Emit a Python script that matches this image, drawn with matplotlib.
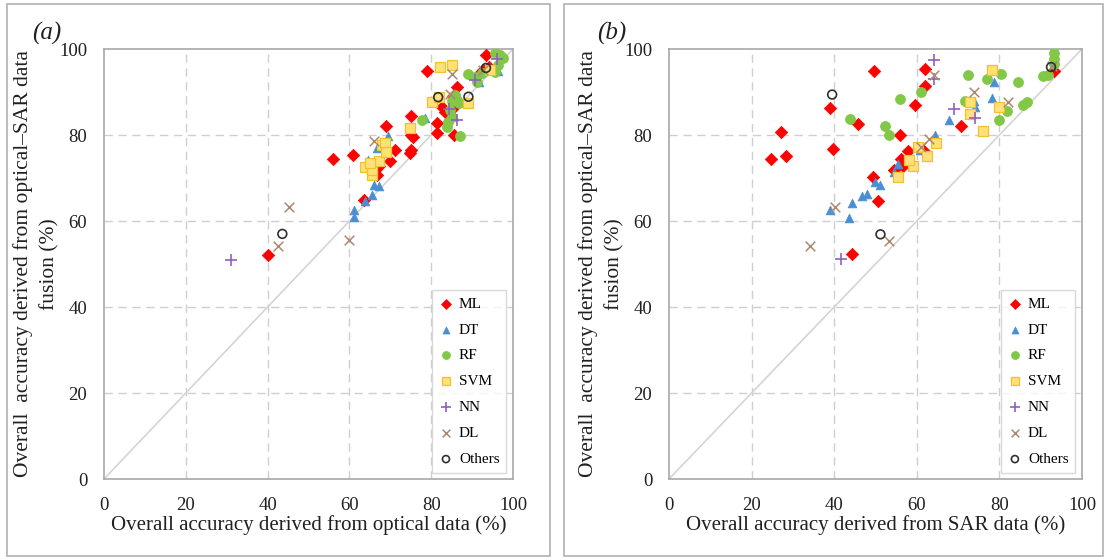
import matplotlib
matplotlib.use("Agg")
import matplotlib.pyplot as plt
from matplotlib.patches import Rectangle

plt.rcParams['font.family'] = ['Liberation Serif', 'DejaVu Serif']

# ---------------- Panel (a): optical vs fusion ----------------
a_ML_x = [40, 56, 61, 69, 79, 75, 75, 75, 74.7, 71.2, 69.9, 67.3, 66.4, 66.8, 81.3, 81.4, 82.6, 83.4,
          85.6, 86.3, 85.4, 93.5, 94.1, 92.7, 91.4, 85.3, 75.5, 63.5]
a_ML_y = [52, 74.5, 75.4, 82, 95, 84.4, 80, 76.5, 75.7, 76.5, 74, 72.7, 72, 70.7, 80.5, 82.7, 86.5, 85.4,
          80, 91.2, 89, 98.7, 95.8, 95.1, 94, 86.3, 79.5, 64.8]
a_DT_x = [61.2, 61.2, 63.9, 65.5, 65.9, 67.2, 64.6, 66.8, 69.4, 78.6, 91.7, 96.3, 85.5]
a_DT_y = [62.5, 60.9, 64.7, 66.1, 68.4, 68.2, 74.1, 76.9, 79.8, 84, 92.4, 94.8, 84.5]
a_RF_x = [77.7, 87, 83.9, 84.1, 84.6, 86.3, 85.8, 85.1, 89, 90.7, 91.2, 95.6, 96.8, 97.6, 96.3, 95.6, 92.4, 86.8, 85.2]
a_RF_y = [83.5, 79.8, 81.9, 83, 85.8, 88.1, 89.3, 84.2, 94.2, 93.5, 92.3, 99, 98.6, 97.9, 96.3, 94.7, 94.4, 87.5, 87.8]
a_SVM_x = [82.2, 85.1, 80.2, 81.9, 89, 74.8, 63.8, 65.5, 65.5, 67.2, 68, 68.7, 69, 94.4, 65]
a_SVM_y = [95.8, 96.3, 87.7, 88.8, 87.4, 81.6, 72.6, 70.7, 71.9, 74, 77.7, 78.1, 76.1, 95.1, 73.5]
a_NN_x = [31, 84.3, 86.3, 90.8, 96]
a_NN_y = [51, 86, 83.5, 92.7, 97.7]
a_DL_x = [45.2, 42.5, 60, 65.9, 85.2, 84.5, 92.6]
a_DL_y = [63.3, 54.3, 55.5, 78.7, 94.1, 89.6, 95.2]
a_OT_x = [43.6, 81.7, 89.1, 93.4]
a_OT_y = [57, 88.8, 88.9, 95.6]

# ---------------- Panel (b): SAR vs fusion ----------------
b_ML_x = [24.8, 27, 28.3, 39.1, 39.8, 49.7, 45.7, 49.4, 50.6, 44.3, 55.9, 59.6, 62, 62, 70.6, 57.8,
          56.1, 56.7, 54.6, 61.8, 93.1]
b_ML_y = [74.4, 80.6, 75.2, 86.3, 76.7, 94.8, 82.5, 70.2, 64.7, 52.4, 80, 86.9, 95.4, 91.4, 82, 76.3,
          74.4, 72.7, 71.9, 76.3, 95]
b_DT_x = [39.1, 43.6, 44.2, 46.8, 47.9, 49.9, 51.2, 54.6, 55.5, 64.4, 67.8, 74.1, 73.9, 78.2, 78.6, 60.7]
b_DT_y = [62.5, 60.8, 64.2, 65.7, 66.3, 69, 68.3, 71.5, 73.2, 80.1, 83.5, 86.5, 87.9, 88.5, 92.3, 76.5]
b_RF_x = [43.8, 52.3, 53.2, 55.9, 61.1, 72.3, 71.6, 77.1, 80.3, 80, 81.9, 84.4, 85.7, 86.6, 90.5, 91.8,
          93.1, 93.1, 93.1]
b_RF_y = [83.7, 82.1, 80, 88.3, 89.9, 93.9, 87.9, 93.1, 94.3, 83.5, 85.6, 92.3, 87, 87.7, 93.7, 93.9,
          99.1, 97.7, 96.4]
b_SVM_x = [55.5, 59, 58.1, 60.2, 62.4, 64.6, 72.8, 72.8, 76, 78.2, 80]
b_SVM_y = [70.2, 72.7, 74.1, 77.1, 75.1, 78.1, 84.8, 87.7, 81, 95.2, 86.5]
b_NN_x = [41.7, 64.1, 64.1, 68.9, 74.1]
b_NN_y = [51.1, 97.4, 93.1, 86, 84]
b_DL_x = [34.1, 40.2, 53.3, 64.1, 63, 73.9, 82, 61.1, 92.7]
b_DL_y = [54.2, 63.3, 55.3, 93.9, 79, 89.9, 87.7, 77.3, 96]
b_OT_x = [39.5, 51.2, 92.5]
b_OT_y = [89.4, 56.9, 95.8]

labels = ["ML", "DT", "RF", "SVM", "NN", "DL", "Others"]
ticks = [0, 20, 40, 60, 80, 100]

styles = {
    "ML": dict(marker='D', s=40, c='#ff0000', edgecolors='#ff0000', linewidths=0.5),
    "DT": dict(marker='^', s=40, c='#4a8fd4', edgecolors='#4a8fd4', linewidths=0.5),
    "RF": dict(marker='o', s=52, c='#80c846', edgecolors='#80c846', linewidths=0.5),
    "SVM": dict(marker='s', s=42, c='#ffe07a', edgecolors='#f2c12e', linewidths=0.9),
    "NN": dict(marker='+', s=75, c='#9060c0', linewidths=1.2),
    "DL": dict(marker='x', s=48, c='#b08870', linewidths=1.1),
    "Others": dict(marker='o', s=40, facecolors='none', edgecolors='#303030', linewidths=1.2),
}

fig = plt.figure(figsize=(11.07, 5.6), dpi=100)
W, H = 1107, 560

def frac(x0, y0, x1, y1):
    return [x0 / W, 1 - y1 / H, (x1 - x0) / W, (y1 - y0) / H]

panels = [
    ("(a)", frac(104, 49, 513, 479), "Overall accuracy derived from optical data (%)",
     [(a_ML_x, a_ML_y), (a_DT_x, a_DT_y), (a_RF_x, a_RF_y), (a_SVM_x, a_SVM_y),
      (a_NN_x, a_NN_y), (a_DL_x, a_DL_y), (a_OT_x, a_OT_y)], (7, 4, 550, 556)),
    ("(b)", frac(669, 49, 1082, 479), "Overall accuracy derived from SAR data (%)",
     [(b_ML_x, b_ML_y), (b_DT_x, b_DT_y), (b_RF_x, b_RF_y), (b_SVM_x, b_SVM_y),
      (b_NN_x, b_NN_y), (b_DL_x, b_DL_y), (b_OT_x, b_OT_y)], (564, 4, 1103, 556)),
]

for tag, rect, xlabel, series, border in panels:
    bx0, by0, bx1, by1 = border
    fig.patches.append(Rectangle((bx0 / W, 1 - by1 / H), (bx1 - bx0) / W, (by1 - by0) / H,
                                 transform=fig.transFigure, fill=False, edgecolor='#b0b0b0',
                                 linewidth=1.2, zorder=0))
    ax = fig.add_axes(rect)
    ax.set_xlim(0, 100)
    ax.set_ylim(0, 100)
    ax.set_xticks(ticks)
    ax.set_yticks(ticks)
    ax.tick_params(length=0, labelsize=13.5, colors='#202020')
    ax.tick_params(axis='x', pad=13)
    ax.tick_params(axis='y', pad=12)
    for sp in ax.spines.values():
        sp.set_color('#a8a8a8')
        sp.set_linewidth(1.2)
    for v in [20, 40, 60, 80]:
        ax.axvline(v, color='#cfcfcf', lw=1.0, ls=(0, (6, 4)), zorder=0)
        ax.axhline(v, color='#cfcfcf', lw=1.0, ls=(0, (6, 4)), zorder=0)
    ax.plot([0, 100], [0, 100], color='#d4d4d4', lw=1.2, zorder=1)
    for lab, (xs, ys) in zip(labels, series):
        ax.scatter(xs, ys, label=lab, zorder=3, **styles[lab])
    ax.set_xlabel(xlabel, fontsize=15, labelpad=1, color='#202020')
    ax.set_ylabel("Overall  accuracy derived from optical\u2013SAR data\nfusion (%)",
                  fontsize=15.5, labelpad=0, color='#202020', linespacing=1.45)
    leg = ax.legend(loc='lower right', fontsize=11, frameon=True, fancybox=False,
                    edgecolor='#d0d0d0', labelspacing=0.8, handletextpad=0.4,
                    handlelength=0.9, borderpad=0.45, borderaxespad=0.0,
                    bbox_to_anchor=(0.984, 0.014),
                    scatterpoints=1, markerscale=0.8)
    leg.get_frame().set_linewidth(1.0)
    ax.text(-0.175, 1.01, tag, transform=ax.transAxes, fontsize=18, style='italic',
            ha='left', va='bottom', color='#202020')

fig.savefig("out.png", dpi=100)
